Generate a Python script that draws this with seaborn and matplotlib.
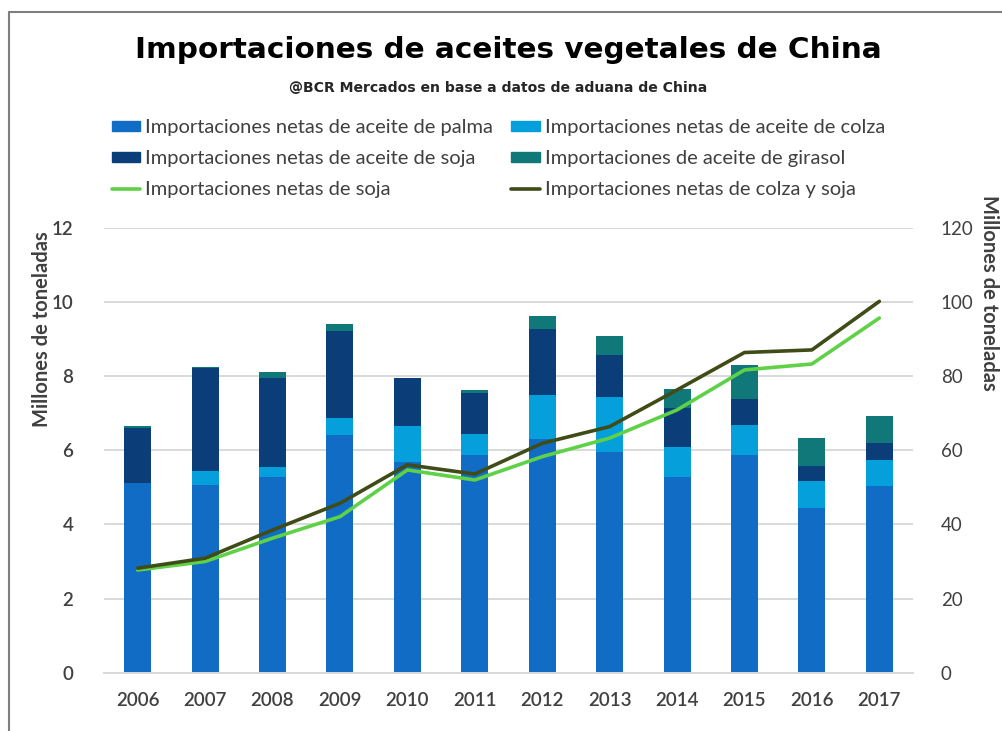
import numpy as np
import pandas as pd
import seaborn as sns
import matplotlib.pyplot as plt
from matplotlib.patches import Patch
from matplotlib.lines import Line2D

years = ['2006', '2007', '2008', '2009', '2010', '2011',
         '2012', '2013', '2014', '2015', '2016', '2017']

# millones de toneladas (eje izquierdo)
palma = [5.13, 5.07, 5.27, 6.42, 5.68, 5.88, 6.30, 5.95, 5.29, 5.88, 4.44, 5.04]
colza_aceite = [0.00, 0.36, 0.27, 0.45, 0.98, 0.56, 1.18, 1.50, 0.81, 0.81, 0.72, 0.70]
soja_aceite = [1.47, 2.79, 2.41, 2.36, 1.29, 1.10, 1.80, 1.11, 1.04, 0.70, 0.42, 0.47]
girasol = [0.05, 0.03, 0.16, 0.18, 0.00, 0.09, 0.35, 0.53, 0.51, 0.92, 0.75, 0.73]

# millones de toneladas (eje derecho)
soja_grano = [27.7, 30.0, 36.3, 42.1, 54.7, 52.0, 58.3, 63.3, 70.9, 81.7, 83.3, 95.7]
colza_soja = [28.2, 30.9, 38.5, 45.7, 56.1, 53.6, 61.9, 66.4, 76.3, 86.4, 87.1, 100.2]

c_palma = '#116CC6'
c_colza = '#059FDB'
c_soja = '#0B3E78'
c_gira = '#11787A'
c_line1 = '#5FD147'
c_line2 = '#3F4C18'
txt = '#404040'

df = pd.DataFrame({'year': years, 'palma': palma, 'colza': colza_aceite,
                   'soja': soja_aceite, 'girasol': girasol})
df['t1'] = df['palma']
df['t2'] = df['t1'] + df['colza']
df['t3'] = df['t2'] + df['soja']
df['t4'] = df['t3'] + df['girasol']

sns.set_theme(style='white')
plt.rcParams['font.family'] = ['Lato', 'DejaVu Sans']

fig = plt.figure(figsize=(10.02, 7.31), dpi=100)
ax = fig.add_axes([0.1038, 0.0798, 0.8074, 0.6083])

# stacked bars: draw cumulative tops, tallest first
for col, c in [('t4', c_gira), ('t3', c_soja), ('t2', c_colza), ('t1', c_palma)]:
    sns.barplot(data=df, x='year', y=col, color=c, width=0.4,
                saturation=1, ax=ax, linewidth=0)

ax.set_ylim(0, 12)
ax.set_yticks(range(0, 13, 2))
ax.set_xlim(-0.5, 11.5)
ax.yaxis.grid(True, color='#D9D9D9', linewidth=1.4)
ax.set_axisbelow(True)
for s in ['top', 'right', 'left']:
    ax.spines[s].set_visible(False)
ax.spines['bottom'].set_color('#D9D9D9')
ax.spines['bottom'].set_linewidth(1.4)
ax.set_xlabel('')
ax.set_ylabel('')
ax.tick_params(axis='y', length=0, pad=22, labelsize=13.5, labelcolor=txt)
ax.tick_params(axis='x', length=0, pad=14, labelsize=13.5, labelcolor=txt)
for lab in ax.get_xticklabels() + ax.get_yticklabels():
    lab.set_fontweight('semibold')

ax2 = ax.twinx()
xpos = np.arange(len(years))
sns.lineplot(x=xpos, y=soja_grano, color=c_line1, linewidth=2.6, ax=ax2)
sns.lineplot(x=xpos, y=colza_soja, color=c_line2, linewidth=2.6, ax=ax2)
ax2.set_ylim(0, 120)
ax2.set_yticks(range(0, 121, 20))
for s in ax2.spines.values():
    s.set_visible(False)
ax2.tick_params(axis='y', length=0, pad=20, labelsize=13.5, labelcolor=txt)
ax2.grid(False)
ax2.set_xlim(-0.5, 11.5)

fig.text(0.042, 0.55, 'Millones de toneladas', rotation=90, ha='center',
         va='center', fontsize=14.5, fontweight='bold', color=txt)
fig.text(0.987, 0.60, 'Millones de toneladas', rotation=270, ha='center',
         va='center', fontsize=14.5, fontweight='bold', color=txt)

cond = ['DejaVu Sans Condensed', 'Liberation Sans Narrow', 'DejaVu Sans']
title = fig.text(0.507, 0.931, 'Importaciones de aceites vegetales de China',
                 ha='center', va='center', fontsize=28, fontweight='bold',
                 family=cond, color='black')
sub = fig.text(0.497, 0.879, '@BCR Mercados en base a datos de aduana de China',
               ha='center', va='center', fontsize=11, fontweight='bold',
               family=cond, color='#262626')

# ajustar ancho de título y subtítulo al de la referencia
r = fig.canvas.get_renderer()
for t, w in [(title, 745), (sub, 415)]:
    cur = t.get_window_extent(r).width
    t.set_fontsize(t.get_fontsize() * w / cur)

handles = [
    Patch(color=c_palma, label='Importaciones netas de aceite de palma'),
    Patch(color=c_soja, label='Importaciones netas de aceite de soja'),
    Line2D([], [], color=c_line1, lw=2.6, label='Importaciones netas de soja'),
    Patch(color=c_colza, label='Importaciones netas de aceite de colza'),
    Patch(color=c_gira, label='Importaciones de aceite de girasol'),
    Line2D([], [], color=c_line2, lw=2.6, label='Importaciones netas de colza y soja'),
]
leg = fig.legend(handles=handles, ncol=2, loc='upper left',
                 bbox_to_anchor=(0.112, 0.837), frameon=False, fontsize=14.5,
                 handlelength=1.4, handleheight=0.45, handletextpad=0.25,
                 columnspacing=0.9, labelspacing=0.7, borderpad=0,
                 borderaxespad=0)
for t in leg.get_texts():
    t.set_color(txt)

# marco de la imagen
fig.add_artist(Line2D([0.009, 0.009], [0, 0.984], color='#7F7F7F', lw=1.5))
fig.add_artist(Line2D([0.009, 1.0], [0.984, 0.984], color='#7F7F7F', lw=1.5))

fig.savefig('out.png', dpi=100)
